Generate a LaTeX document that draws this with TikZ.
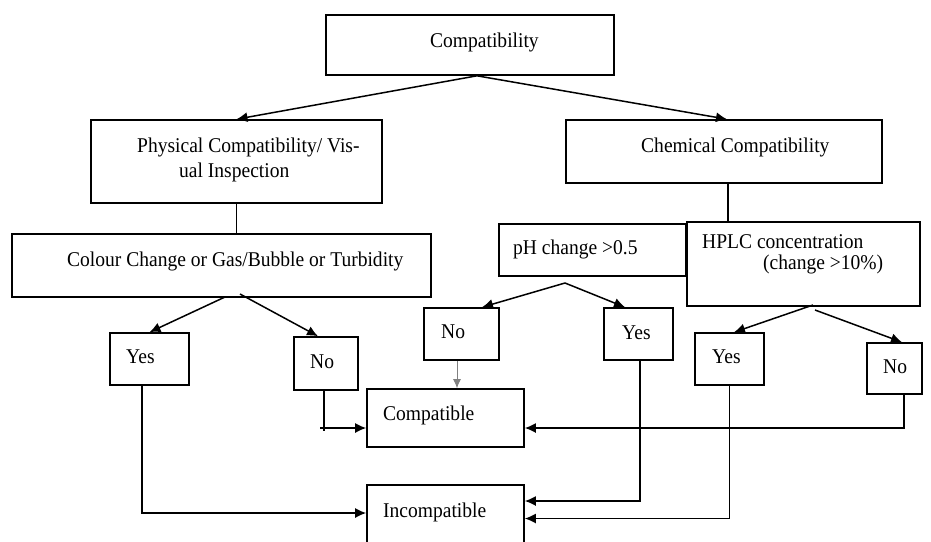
\documentclass[tikz,border=0pt]{standalone}
\usepackage{fontspec}
\setmainfont{Liberation Serif}[FakeStretch=0.93]
\usetikzlibrary{arrows.meta}
\begin{document}
\begin{tikzpicture}[x=1pt,y=-1pt,
  box/.style={draw, line width=1.6pt, rectangle, inner sep=0pt},
  txt/.style={inner sep=0pt, anchor=base west, font=\fontsize{21}{25}\selectfont},
  ln/.style={line width=1.5pt},
  arr/.style={line width=1.5pt, -{Latex[length=11pt,width=10pt]}},
  garr/.style={line width=0.9pt, draw=gray, -{Latex[length=9pt,width=8pt]}}]
\useasboundingbox (0,0) rectangle (931,541);
% boxes
\node[box, minimum width=288pt, minimum height=60pt] (cmp) at (470,45) {};
\node[box, minimum width=291pt, minimum height=83pt] (phys) at (236.5,161.5) {};
\node[box, minimum width=316pt, minimum height=63pt] (chem) at (724,151.5) {};
\node[box, minimum width=419pt, minimum height=63pt] (colour) at (221.5,265.5) {};
\node[box, minimum width=187pt, minimum height=52pt] (ph) at (592.5,250) {};
\node[box, minimum width=233pt, minimum height=84pt] (hplc) at (803.5,264) {};
\node[box, minimum width=79pt, minimum height=52pt] (yes1) at (149.5,359) {};
\node[box, minimum width=64pt, minimum height=53pt] (no1) at (326,363.5) {};
\node[box, minimum width=75pt, minimum height=52pt] (no2) at (461.5,334) {};
\node[box, minimum width=69pt, minimum height=52pt] (yes2) at (638.5,334) {};
\node[box, minimum width=69pt, minimum height=52pt] (yes3) at (729.5,359) {};
\node[box, minimum width=55pt, minimum height=51pt] (no3) at (894.5,368.5) {};
\node[box, minimum width=157pt, minimum height=58pt] (comp) at (445.5,418) {};
\node[box, minimum width=157pt, minimum height=75pt] (incomp) at (445.5,522.5) {};
% texts
\node[txt] (cmpT) at (430,47) {Compatibility};
\node[txt] (physT1) at (137,152) {Physical Compatibility/ Vis-};
\node[txt] (physT2) at (179,177) {ual Inspection};
\node[txt] (chemT) at (641,152) {Chemical Compatibility};
\node[txt] (colourT) at (67,266) {Colour Change or Gas/Bubble or Turbidity};
\node[txt] (phT) at (513,254) {pH change >0.5};
\node[txt] (hplcT1) at (702,248) {HPLC concentration};
\node[txt] (hplcT2) at (763,269) {(change >10\%)};
\node[txt] (yes1T) at (126,363) {Yes};
\node[txt] (no1T) at (310,368) {No};
\node[txt] (no2T) at (441,338) {No};
\node[txt] (yes2T) at (622,339) {Yes};
\node[txt] (yes3T) at (712,363) {Yes};
\node[txt] (no3T) at (883,373) {No};
\node[txt] (compT) at (383,420) {Compatible};
\node[txt] (incompT) at (383,517) {Incompatible};
% helper coordinates
\coordinate (cA) at (225,297);
\coordinate (cB) at (240,294);
\coordinate (phA) at (565,283);
\coordinate (hA) at (813,305);
\coordinate (hB) at (815,310);
\coordinate (n1a) at (324,431);
\coordinate (n1b) at (320,428);
% connectors
\draw[arr] ([xshift=7pt]cmp.south) -- (phys.north);
\draw[arr] ([xshift=7pt]cmp.south) -- ([xshift=3pt]chem.north);
\draw[ln] (phys.south) -- (phys.south |- colour.north);
\draw[ln] ([xshift=4pt]chem.south) -- ([xshift=4pt]chem.south |- hplc.north);
\draw[arr] (cA) -- (yes1.north);
\draw[arr] (cB) -- ([xshift=-8pt]no1.north);
\draw[arr] (phA) -- ([xshift=20.5pt]no2.north);
\draw[arr] (phA) -- ([xshift=-13.5pt]yes2.north);
\draw[arr] (hA) -- ([xshift=4.5pt]yes3.north);
\draw[arr] (hB) -- ([xshift=7.5pt]no3.north);
\draw[garr] ([xshift=-4.5pt]no2.south) -- ([xshift=-4.5pt]no2.south |- comp.north);
\draw[ln] (no1.south -| n1a) -- (n1a);
\draw[arr] (n1b) -- (comp.west |- n1b);
\draw[arr] ([xshift=-7.5pt]yes1.south) |- ([yshift=9.5pt]incomp.west);
\draw[arr] ([xshift=1.5pt]yes2.south) |- ([yshift=21.5pt]incomp.east);
\draw[arr] (yes3.south) |- ([yshift=4pt]incomp.east);
\draw[arr] ([xshift=9.5pt]no3.south) |- ([yshift=-10pt]comp.east);
\end{tikzpicture}
\end{document}
